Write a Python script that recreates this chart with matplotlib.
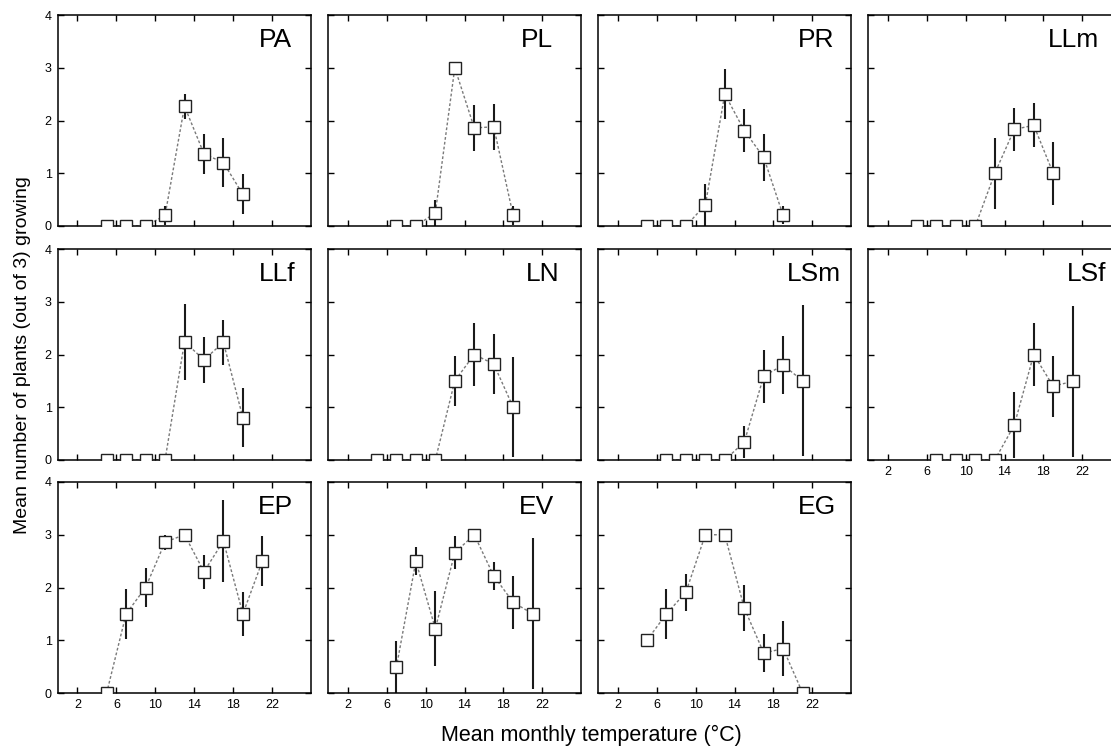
import matplotlib
matplotlib.use('Agg')
import matplotlib.pyplot as plt

# 字体: Arial 同款度量的 Liberation Sans
plt.rcParams['font.family'] = ['Liberation Sans', 'DejaVu Sans']

# 月平均温度 (°C)
t5_19 = [5, 7, 9, 11, 13, 15, 17, 19]
t7_19 = [7, 9, 11, 13, 15, 17, 19]
t7_21 = [7, 9, 11, 13, 15, 17, 19, 21]
t5_21 = [5, 7, 9, 11, 13, 15, 17, 19, 21]

# 各种群: 平均生长株数 (3株中) 及标准误
pa_mean = [0, 0, 0, 0.2, 2.27, 1.37, 1.2, 0.6]
pa_se = [0, 0, 0, 0.18, 0.24, 0.38, 0.47, 0.38]
pl_mean = [0, 0, 0.25, 3.0, 1.86, 1.88, 0.2]
pl_se = [0, 0, 0.25, 0, 0.44, 0.43, 0.18]
pr_mean = [0, 0, 0, 0.4, 2.5, 1.81, 1.3, 0.2]
pr_se = [0, 0, 0, 0.4, 0.47, 0.4, 0.45, 0.17]
llm_mean = [0, 0, 0, 0, 1.0, 1.83, 1.91, 1.0]
llm_se = [0, 0, 0, 0, 0.67, 0.4, 0.42, 0.6]
llf_mean = [0, 0, 0, 0, 2.24, 1.9, 2.23, 0.8]
llf_se = [0, 0, 0, 0, 0.72, 0.44, 0.42, 0.56]
ln_mean = [0, 0, 0, 0, 1.5, 2.0, 1.82, 1.0]
ln_se = [0, 0, 0, 0, 0.48, 0.6, 0.57, 0.95]
lsm_mean = [0, 0, 0, 0, 0.34, 1.59, 1.8, 1.5]
lsm_se = [0, 0, 0, 0, 0.3, 0.5, 0.55, 1.43]
lsf_mean = [0, 0, 0, 0, 0.66, 2.0, 1.4, 1.49]
lsf_se = [0, 0, 0, 0, 0.63, 0.6, 0.58, 1.43]
ep_mean = [0, 1.5, 2.0, 2.86, 3.0, 2.3, 2.88, 1.5, 2.5]
ep_se = [0, 0.48, 0.37, 0.14, 0, 0.32, 0.78, 0.41, 0.47]
ev_mean = [0.49, 2.5, 1.22, 2.66, 3.0, 2.22, 1.72, 1.5]
ev_se = [0.5, 0.26, 0.71, 0.31, 0, 0.26, 0.5, 1.43]
eg_mean = [1.0, 1.5, 1.91, 3.0, 3.0, 1.61, 0.76, 0.84, 0.0]
eg_se = [0, 0.48, 0.35, 0, 0, 0.44, 0.36, 0.52, 0]

names = ['PA', 'PL', 'PR', 'LLm', 'LLf', 'LN', 'LSm', 'LSf', 'EP', 'EV', 'EG']
temps = [t5_19, t7_19, t5_19, t5_19, t5_19, t5_19, t7_21, t7_21, t5_21, t7_21, t5_21]
means = [pa_mean, pl_mean, pr_mean, llm_mean, llf_mean, ln_mean, lsm_mean, lsf_mean,
         ep_mean, ev_mean, eg_mean]
ses = [pa_se, pl_se, pr_se, llm_se, llf_se, ln_se, lsm_se, lsf_se, ep_se, ev_se, eg_se]

# 名称标签的水平位置 (轴坐标)
label_x = [0.794, 0.763, 0.787, 0.711, 0.794, 0.779, 0.747, 0.783, 0.79, 0.755, 0.787]

W, H = 1111, 748
fig = plt.figure(figsize=(W / 100, H / 100), dpi=100)

col_left = [58, 328.3, 598.3, 868.3]
row_bottom = [226, 460, 693]
aw, ah = 253, 211

for i, name in enumerate(names):
    r, c = divmod(i, 4)
    ax = fig.add_axes([col_left[c] / W, 1 - row_bottom[r] / H, aw / W, ah / H])

    t, m, se = temps[i], means[i], ses[i]
    ax.plot(t, m, linestyle=(0, (2, 1.5)), color='#7a7a7a', lw=1.0, zorder=1)
    ax.errorbar(t, m, yerr=se, fmt='none', ecolor='#1a1a1a', elinewidth=1.5,
                capsize=0, zorder=2)
    ax.plot(t, m, 's', ms=8.8, mfc='white', mec='#222222', mew=1.0, zorder=3)

    ax.set_xlim(0, 26)
    ax.set_ylim(0, 4)
    ax.set_xticks([2, 6, 10, 14, 18, 22])
    ax.set_yticks([0, 1, 2, 3, 4])
    ax.tick_params(direction='in', top=True, right=True, length=4, width=1,
                   labelsize=9, pad=4.5)
    for s in ax.spines.values():
        s.set_linewidth(1.1)

    # 只在最左列显示y刻度, 最下方的图显示x刻度
    if c != 0:
        ax.set_yticklabels([])
    if r != 2 and i != 7:
        ax.set_xticklabels([])

    ax.text(label_x[i], 0.94, name, transform=ax.transAxes, ha='left', va='top',
            fontsize=19)

fig.text(0.02, 0.525, 'Mean number of plants (out of 3) growing', rotation=90,
         ha='center', va='center', fontsize=14)
fig.text(0.532, 0.017, 'Mean monthly temperature (°C)', ha='center', va='center',
         fontsize=15.5)

plt.savefig('out.png', dpi=100)
